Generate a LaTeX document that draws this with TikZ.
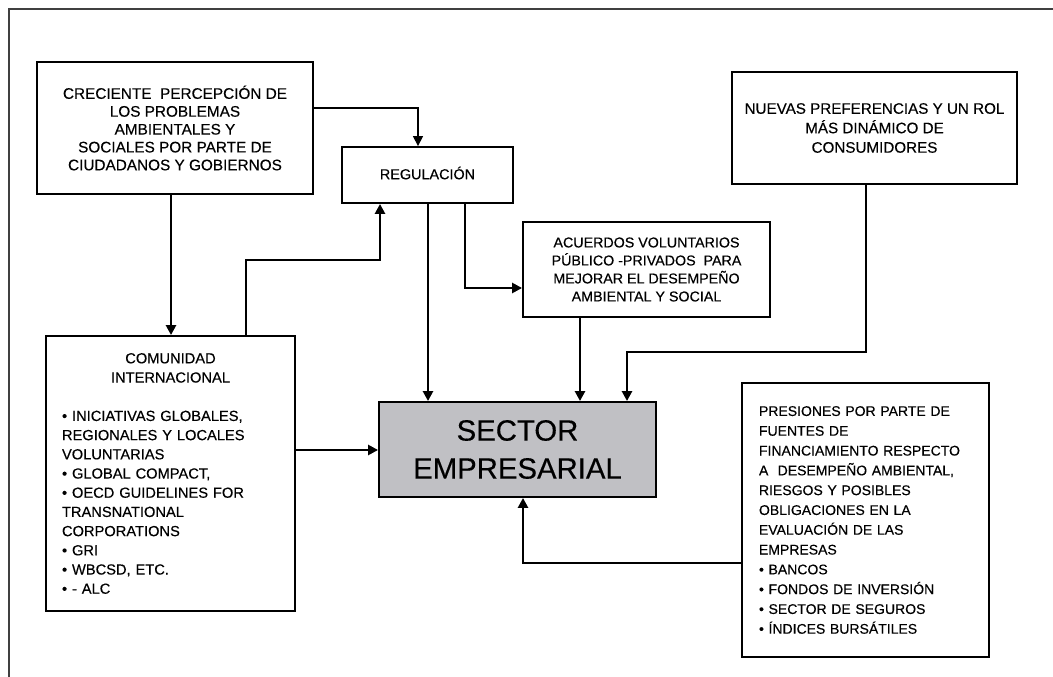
\documentclass[tikz,border=0pt]{standalone}
\usepackage{fontspec}
\setmainfont{Liberation Sans}[FakeBold=0.35]
\usetikzlibrary{arrows.meta}
\definecolor{sectorgray}{RGB}{192,192,196}
\begin{document}
\begin{tikzpicture}[x=0.75pt,y=0.75pt,yscale=-1,xscale=1,
  box/.style={draw, line width=1.4pt, align=center, inner sep=2pt},
  conn/.style={line width=1.9pt, -{Triangle[length=7.5pt,width=7.5pt]}}]
    \useasboundingbox (0,0) rectangle (1053,677);
    \draw [black!75, line width=0.8pt] (9,677) |- (1053,9) ;
    \node [box, minimum width=207pt, minimum height=99pt, font=\fontsize{11.5}{13.4}\selectfont] (crec) at (175,128) {CRECIENTE\ \ PERCEPCIÓN DE\\LOS PROBLEMAS\\AMBIENTALES Y\\SOCIALES POR PARTE DE\\CIUDADANOS Y GOBIERNOS};
    \node [box, minimum width=128.25pt, minimum height=42pt, font=\fontsize{10.8}{13}\selectfont] (reg) at (427.5,175) {\raisebox{3pt}{REGULACIÓN}};
    \node [box, minimum width=185.25pt, minimum height=71.25pt, font=\fontsize{10.7}{13.5}\selectfont] (acuer) at (646.5,269.5) {ACUERDOS VOLUNTARIOS\\PÚBLICO -PRIVADOS\ \ PARA\\MEJORAR EL DESEMPEÑO\\AMBIENTAL Y SOCIAL};
    \node [box, minimum width=213.75pt, minimum height=84pt, font=\fontsize{11.4}{14.6}\selectfont] (nuevas) at (874.5,128) {NUEVAS PREFERENCIAS Y UN ROL\\MÁS DINÁMICO DE\\CONSUMIDORES};
    \node [box, fill=sectorgray, minimum width=207.75pt, minimum height=71.25pt, font=\fontsize{22}{28.5}\selectfont] (sector) at (517.5,449.5) {SECTOR\\EMPRESARIAL};
    \node [box, align=left, inner xsep=12pt, text width=162.75pt, minimum height=206.25pt, font=\fontsize{11}{14.4}\selectfont] (comun) at (170.5,473.5) {{\centering COMUNIDAD\\INTERNACIONAL\par}\vspace{\baselineskip}• INICIATIVAS GLOBALES,\\REGIONALES Y LOCALES\\VOLUNTARIAS\\• GLOBAL COMPACT,\\• OECD GUIDELINES FOR\\TRANSNATIONAL\\CORPORATIONS\\• GRI\\• WBCSD, ETC.\\• - ALC};
    \node [box, align=left, inner xsep=12.75pt, text width=159.75pt, minimum height=205.5pt, font=\fontsize{10.5}{14.85}\selectfont] (presi) at (865.5,520) {PRESIONES POR PARTE DE\\FUENTES DE\\FINANCIAMIENTO RESPECTO\\A\ \ DESEMPEÑO AMBIENTAL,\\RIESGOS Y POSIBLES\\OBLIGACIONES EN LA\\EVALUACIÓN DE LAS\\EMPRESAS\\• BANCOS\\• FONDOS DE INVERSIÓN\\• SECTOR DE SEGUROS\\• ÍNDICES BURSÁTILES};
    \draw [conn, line width=1.2pt] (crec.east |- 0,108) -| (reg.north -| 418,0) ;
    \draw [conn] (crec.south -| 171,0) -- (comun.north -| 171,0) ;
    \draw [conn] (comun.north -| 246,0) |- (380,260) -- (reg.south -| 380,0) ;
    \draw [conn] (reg.south -| 428,0) -- (sector.north -| 428,0) ;
    \draw [conn] (reg.south -| 465,0) |- (acuer.west |- 0,288) ;
    \draw [conn] (acuer.south -| 580,0) -- (sector.north -| 580,0) ;
    \draw [conn] (nuevas.south -| 866,0) |- (627,352) -- (sector.north -| 627,0) ;
    \draw [conn] (comun.east |- 0,450) -- (sector.west |- 0,450) ;
    \draw [conn] (presi.west |- 0,563) -| (sector.south -| 523,0) ;
\end{tikzpicture}
\end{document}
